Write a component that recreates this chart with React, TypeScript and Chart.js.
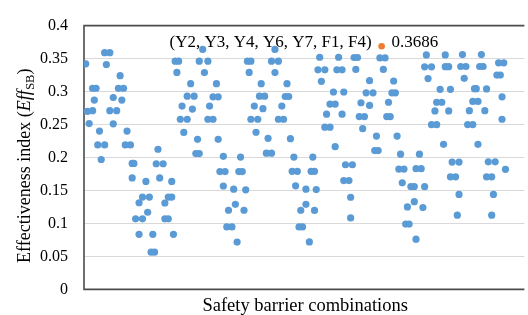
import React, { useEffect, useRef } from 'react';
import { Chart, registerables } from 'chart.js';
Chart.register(...registerables);

const SERIF = '"Liberation Serif", "Times New Roman", serif';

// [combination index, effectiveness index]
const groupA: [number, number][] = [[1,.342],[2,.270],[3,.2515],[5,.271],[5,.305],[6,.287],[7,.305],[8,.219],[9,.240],[10,.197],[12,.219],[12,.359],[13,.341],[15,.359],[15,.271],[17,.291],[17,.251],[19,.271],[20,.305],[21,.324],[22,.287],[23,.305],[24,.219],[25,.240],[27,.219],[28,.191],[28,.169],[29,.191],[30,.107],[32,.1314],[32,.0835],[34,.107],[34,.140],[36,.1637],[37,.117],[38,.140],[39,.0564],[40,.0835],[41,.0564],[42,.1905],[43,.2125],[44,.169],[46,.1905],[47,.107],[47,.131],[49,.107],[49,.140],[51,.1637],[51,.140],[52,.0835]];
const groupB: [number, number][] = [[53,.346],[54,.329],[55,.346],[56,.258],[57,.278],[58,.238],[60,.258],[60,.293],[62,.312],[63,.2735],[64,.293],[65,.206],[66,.2276],[67,.206],[67,.346],[69,.3638],[70,.3287],[72,.346],[72,.258],[73,.278],[75,.258],[75,.292],[77,.312],[78,.292],[78,.2276]];
const groupBLow: [number, number][] = [[79,.1787],[81,.2018],[81,.1568],[82,.1787],[83,.0948],[84,.120],[86,.0948],[87,.152],[88,.129],[89,.0718],[90,.1787],[91,.2007],[92,.1787],[93,.120],[94,.151]];
const groupC: [number, number][] = [[95,.346],[96,.329],[97,.346],[97,.258],[99,.278],[100,.2383],[101,.258],[102,.293],[103,.312],[104,.274],[105,.293],[106,.2066],[107,.229],[109,.2066],[109,.346],[111,.3638],[111,.3287],[113,.346],[113,.258],[115,.278],[116,.258],[117,.2925],[118,.312],[119,.2925],[120,.2286]];
const groupCLow: [number, number][] = [[121,.179],[122,.2007],[123,.157],[124,.179],[125,.0948],[126,.120],[127,.0948],[129,.152],[129,.129],[131,.072],[132,.179],[133,.2007],[134,.179],[134,.1197],[135,.1514]];
const groupD: [number, number][] = [[136,.333],[137,.352],[138,.3155],[140,.333],[140,.246],[141,.2657],[143,.246],[143,.281],[145,.2993],[146,.281],[146,.2164],[147,.333],[148,.352],[150,.333],[150,.2657],[151,.2993],[151,.165],[152,.189],[154,.165],[155,.1084],[155,.1397],[156,.189],[157,.3516],[158,.3336],[159,.3516],[160,.262],[161,.283],[162,.2437],[163,.262],[164,.298],[166,.3165],[166,.279],[168,.298],[169,.2105],[170,.2325],[171,.2105]];
const groupE: [number, number][] = [[172,.351],[174,.3336],[175,.351],[176,.262],[177,.2838],[178,.262],[179,.298],[180,.316],[181,.298],[182,.2325],[183,.1824],[184,.205],[185,.1616],[186,.1824],[187,.099],[188,.125],[189,.099],[190,.156],[192,.156],[192,.133],[193,.0762],[193,.183],[195,.205],[196,.183],[197,.124],[198,.1557]];
const groupF: [number, number][] = [[198,.3375],[199,.3556],[200,.3197],[202,.3375],[202,.2498],[204,.2706],[205,.2498],[205,.2838],[207,.3033],[208,.2838],[209,.220],[210,.3377],[210,.3556],[212,.3377],[212,.2706],[213,.3033],[213,.1707],[214,.193],[216,.1707],[217,.1126],[218,.144],[218,.193]];
const groupG: [number, number][] = [[219,.338],[220,.356],[221,.320],[222,.338],[223,.250],[224,.271],[226,.250],[226,.285],[227,.3043],[228,.3043],[229,.285],[229,.220],[230,.338],[231,.356],[232,.338],[233,.271],[234,.304],[234,.1707],[235,.1934],[237,.1707],[237,.1126],[238,.144],[239,.1934],[240,.325],[241,.3435],[242,.325],[243,.258],[243,.292],[244,.3435],[245,.182]];

const bestIndex = 173;
const bestValue = 0.3686;
const bestCombo = '(Y2, Y3, Y4, Y6, Y7, F1, F4)';
const bestLabel = '0.3686';

const yTickLabels = ['0', '0.05', '0.1', '0.15', '0.2', '0.25', '0.3', '0.35', '0.4'];
const xTitle = 'Safety barrier combinations';
const yTitleParts = { main: 'Effectiveness index (', italic: 'Eff', sub: 'SB', close: ')' };

const allPoints = [...groupA, ...groupB, ...groupBLow, ...groupC, ...groupCLow, ...groupD, ...groupE, ...groupF, ...groupG];

const decor = {
  id: 'decor',
  beforeDatasetsDraw(chart: any) {
    const { ctx, chartArea: a } = chart;
    ctx.save();
    ctx.strokeStyle = '#4d4d4d';
    ctx.lineWidth = 1.6;
    ctx.beginPath();
    ctx.moveTo(a.right, a.top);
    ctx.lineTo(a.left, a.top);
    ctx.lineTo(a.left, a.bottom);
    ctx.lineTo(a.right, a.bottom);
    ctx.stroke();
    ctx.restore();
  },
  afterDraw(chart: any) {
    const { ctx, chartArea: a } = chart;
    ctx.save();
    ctx.fillStyle = '#000';
    // annotation
    const pt = chart.getDatasetMeta(1).data[0];
    ctx.font = `17px ${SERIF}`;
    ctx.textBaseline = 'alphabetic';
    ctx.textAlign = 'right';
    ctx.fillText(bestCombo, pt.x - 10, pt.y + 1);
    ctx.textAlign = 'left';
    ctx.fillText(bestLabel, pt.x + 10, pt.y + 1);
    // x title
    ctx.font = `18.5px ${SERIF}`;
    ctx.textAlign = 'center';
    ctx.fillText(xTitle, (a.left + a.right) / 2 + 1, 311);
    // y title
    ctx.translate(30, 166);
    ctx.rotate(-Math.PI / 2);
    const fMain = `18px ${SERIF}`;
    const fIt = `italic 18px ${SERIF}`;
    const fSub = `12.5px ${SERIF}`;
    ctx.font = fMain; const w1 = ctx.measureText(yTitleParts.main).width;
    ctx.font = fIt; const w2 = ctx.measureText(yTitleParts.italic).width;
    ctx.font = fSub; const w3 = ctx.measureText(yTitleParts.sub).width;
    ctx.font = fMain; const w4 = ctx.measureText(yTitleParts.close).width;
    let x = -(w1 + w2 + w3 + w4) / 2;
    ctx.textAlign = 'left';
    ctx.font = fMain; ctx.fillText(yTitleParts.main, x, 0); x += w1;
    ctx.font = fIt; ctx.fillText(yTitleParts.italic, x, 0); x += w2 + 0.5;
    ctx.font = fSub; ctx.fillText(yTitleParts.sub, x, 3.5); x += w3;
    ctx.font = fMain; ctx.fillText(yTitleParts.close, x, 0);
    ctx.restore();
  },
};

export default function App() {
  const ref = useRef<HTMLCanvasElement>(null);
  useEffect(() => {
    const chart = new Chart(ref.current as HTMLCanvasElement, {
      type: 'scatter',
      data: {
        datasets: [
          {
            label: 'Combinations',
            data: allPoints.map(([x, y]) => ({ x, y })),
            pointBackgroundColor: '#5B9BD5',
            pointBorderColor: '#5B9BD5',
            pointBorderWidth: 0,
            pointRadius: 3.6,
            pointHoverRadius: 3.6,
          },
          {
            label: 'Best',
            data: [{ x: bestIndex, y: bestValue }],
            pointBackgroundColor: '#ED7D31',
            pointBorderColor: '#ED7D31',
            pointBorderWidth: 0,
            pointRadius: 3.3,
            pointHoverRadius: 3.3,
          },
        ],
      } as any,
      options: {
        responsive: false,
        animation: false,
        devicePixelRatio: 1,
        layout: { padding: { top: 19, bottom: 23, left: 0, right: 0 } },
        plugins: { legend: { display: false }, tooltip: { enabled: false } },
        scales: {
          x: { type: 'linear', min: 0, max: 256, display: false },
          y: {
            min: 0,
            max: 0.4,
            ticks: {
              stepSize: 0.05,
              padding: 16,
              color: '#000',
              font: { family: SERIF, size: 16 },
              callback: (v: any) => yTickLabels[Math.round(Number(v) / 0.05)],
            },
            grid: {
              color: (c: any) => (c.index === 0 || c.index === 8 ? 'rgba(0,0,0,0)' : '#d9d9d9'),
              drawTicks: false,
              lineWidth: 1,
            },
            border: { display: false },
            afterFit: (s: any) => { s.width = 84; },
          },
        },
      } as any,
      plugins: [decor],
    });
    return () => chart.destroy();
  }, []);
  return (
    <div style={{ position: 'fixed', left: 0, top: 0, width: 528, height: 315, background: '#fff' }}>
      <canvas ref={ref} width={528} height={315} style={{ display: 'block', width: 528, height: 315 }} />
    </div>
  );
}
